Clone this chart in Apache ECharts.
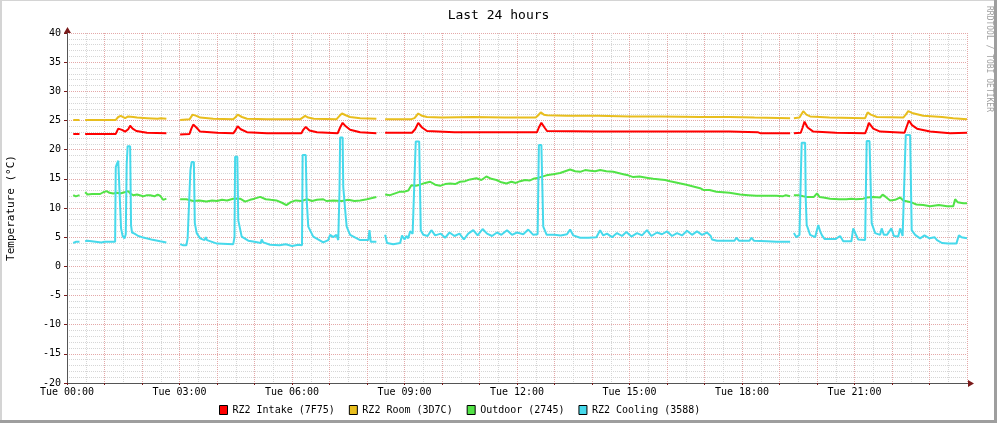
<!DOCTYPE html>
<html><head><meta charset="utf-8">
<script src="https://cdn.jsdelivr.net/npm/echarts@6/dist/echarts.min.js"></script>
<style>html,body{margin:0;padding:0;background:#fff}#c{width:997px;height:423px}</style>
</head><body><div id="c"></div>
<script>
// ---- data (x = minutes since Tue 00:00, null = gap) ----
const seriesNames = ['RZ2 Intake (7F75)', 'RZ2 Room (3D7C)', 'Outdoor (2745)', 'RZ2 Cooling (3588)'];
const xTickLabels = ['Tue 00:00','Tue 03:00','Tue 06:00','Tue 09:00','Tue 12:00','Tue 15:00','Tue 18:00','Tue 21:00'];

const intake = [[10,22.7],[20,22.7],[21,null],
[29,22.7],[78,22.7],[82,23.6],[85,23.9],[88,23.4],[93,23.1],[98,23.5],[101,24.1],[105,23.6],[111,23.2],[128,22.9],[159,22.8],[160,null],
[181,22.6],[196,22.7],[199,23.6],[202,24.3],[207,23.8],[213,23.1],[240,22.9],[266,22.8],[270,23.4],[273,24.0],[278,23.5],[288,23.0],[320,22.8],[375,22.8],[378,23.4],[382,23.9],[388,23.3],[400,23.0],[433,22.8],[437,23.8],[441,24.6],[446,24.0],[453,23.4],[469,23.0],[495,22.8],[496,null],
[509,22.9],[552,22.9],[557,23.5],[562,24.6],[568,23.8],[576,23.2],[620,23.0],[700,23.0],[752,23.0],[755,23.8],[759,24.6],[764,23.8],[768,23.2],[850,23.1],[950,23.1],[1013,23.1],[1060,23.1],[1105,23.0],[1110,22.8],[1157,22.8],[1158,null],
[1163,22.8],[1174,22.9],[1177,23.8],[1180,24.8],[1185,23.8],[1194,23.1],[1230,22.9],[1277,22.8],[1280,23.6],[1283,24.6],[1290,23.6],[1301,23.1],[1340,22.9],[1343,23.8],[1347,25.0],[1352,24.2],[1360,23.6],[1381,23.1],[1413,22.8],[1440,22.9]];

const room = [[10,25.1],[20,25.1],[21,null],
[29,25.1],[78,25.1],[82,25.6],[86,25.8],[93,25.4],[98,25.7],[101,25.9],[106,25.6],[112,25.5],[128,25.4],[145,25.3],[150,25.4],[159,25.3],[160,null],
[181,25.1],[196,25.2],[201,26.0],[207,25.8],[213,25.5],[234,25.3],[266,25.2],[270,25.6],[273,26.0],[280,25.6],[288,25.3],[320,25.2],[373,25.2],[377,25.5],[381,25.8],[386,25.5],[395,25.3],[431,25.2],[436,25.8],[440,26.2],[446,25.9],[453,25.6],[469,25.4],[495,25.3],[496,null],
[509,25.2],[550,25.2],[556,25.4],[562,26.2],[568,25.8],[576,25.6],[600,25.5],[650,25.6],[700,25.5],[750,25.5],[754,25.9],[758,26.4],[763,26.0],[768,25.9],[800,25.8],[850,25.8],[900,25.7],[950,25.7],[1013,25.6],[1060,25.6],[1100,25.5],[1157,25.4],[1158,null],
[1163,25.4],[1172,25.5],[1178,26.6],[1183,26.0],[1189,25.7],[1220,25.5],[1277,25.4],[1281,26.4],[1286,26.0],[1296,25.6],[1338,25.5],[1342,26.0],[1346,26.6],[1352,26.3],[1370,25.8],[1400,25.6],[1418,25.4],[1440,25.2]];

const outdoor = [[10,12.2],[14,12.0],[20,12.2],[21,null],
[29,12.7],[33,12.3],[40,12.4],[53,12.4],[58,12.7],[63.5,12.9],[68,12.6],[74,12.5],[80,12.6],[85,12.5],[92,12.7],[98,12.9],[102,12.4],[106,12.2],[112,12.3],[122,12.0],[128,12.2],[133,12.2],[140,12.0],[145,12.3],[149,12.1],[154,11.4],[159,11.6],[160,null],
[181,11.5],[191,11.5],[194,11.8],[202,11.2],[212,11.3],[223,11.1],[232,11.3],[240,11.2],[248,11.4],[256,11.3],[266,11.6],[277,11.6],[285,11.1],[293,11.4],[300,11.6],[309,11.9],[318,11.5],[326,11.4],[335,11.3],[344,10.9],[351,10.5],[358,11.0],[366,11.3],[375,11.2],[384,11.5],[392,11.2],[400,11.4],[410,11.5],[415,11.2],[426,11.3],[440,11.2],[450,11.4],[460,11.2],[469,11.3],[480,11.5],[488,11.7],[495,11.9],[496,null],
[509,12.3],[517,12.2],[525,12.5],[533,12.8],[540,12.8],[546,13.0],[551,13.9],[558,13.8],[565,14.0],[573,14.3],[581,14.5],[589,14.0],[597,13.8],[605,14.1],[613,14.2],[621,14.1],[629,14.5],[637,14.6],[645,14.9],[655,15.1],[663,14.8],[671,15.4],[679,15.0],[687,14.8],[695,14.4],[703,14.2],[711,14.5],[718,14.3],[725,14.6],[733,14.8],[740,14.7],[746,15.0],[755,15.2],[767,15.6],[778,15.8],[789,16.0],[797,16.3],[805,16.6],[813,16.3],[821,16.2],[829,16.5],[837,16.4],[845,16.3],[853,16.5],[863,16.3],[874,16.2],[882,16.0],[890,15.8],[898,15.6],[906,15.3],[916,15.4],[927,15.2],[938,15.0],[949,14.9],[957,14.8],[965,14.6],[978,14.3],[991,14.0],[1002,13.7],[1013,13.4],[1018,13.1],[1028,13.1],[1039,12.8],[1050,12.7],[1060,12.6],[1077,12.3],[1090,12.2],[1103,12.1],[1120,12.1],[1135,12.1],[1145,12.0],[1150,12.2],[1157,12.0],[1158,null],
[1163,12.2],[1170,12.2],[1178,12.0],[1183,11.9],[1195,11.9],[1200,12.5],[1204,11.9],[1210,11.8],[1221,11.6],[1235,11.5],[1247,11.5],[1255,11.6],[1258,11.9],[1262,11.5],[1274,11.6],[1280,11.8],[1290,11.9],[1301,11.8],[1305,12.3],[1310,11.9],[1317,11.3],[1325,11.4],[1333,11.8],[1338,11.3],[1350,11.0],[1359,10.6],[1370,10.5],[1381,10.3],[1395,10.5],[1408,10.3],[1418,10.3],[1421,11.5],[1425,11.0],[1434,10.8],[1440,10.8]];

const cooling = [[10,4.0],[14,4.2],[20,4.2],[21,null],
[29,4.3],[33,4.4],[36,4.1],[55,4.1],[60,4.2],[70,4.2],[77,4.2],[78,17.0],[80,17.6],[82,18.1],[85,18.1],[86.5,6.5],[89,5.2],[92,4.8],[94,5.5],[95.5,17.5],[97,20.6],[101,20.6],[102.5,7.0],[104,5.8],[108,5.6],[114,5.2],[120,5.0],[127,4.8],[135,4.6],[149,4.3],[159,4.1],[160,null],
[181,3.8],[186,3.6],[191,3.6],[193,4.8],[196,5.0],[197.5,16.5],[199.5,17.9],[203,17.9],[204.5,7.4],[207.5,5.7],[213,4.8],[220,4.5],[222,5.0],[224,4.5],[240,3.9],[266,3.8],[268,5.0],[269,18.8],[272.5,18.8],[274,7.9],[279.5,5.1],[290,4.4],[300,4.2],[310,4.0],[311.5,4.6],[314,4.1],[325,3.7],[340,3.6],[350,3.8],[353,3.5],[360,3.5],[370,3.7],[376,3.6],[377,19.1],[382,19.1],[383.5,11.4],[386,6.8],[394,5.1],[410,4.1],[418,4.5],[421,5.4],[426,5.0],[431,5.4],[434,4.5],[436,13.0],[437,22.1],[441,22.1],[442,13.6],[446,8.5],[447.5,6.8],[453,5.4],[469,4.5],[482,4.5],[484,6.2],[486,4.2],[495,4.2],[496,null],
[509,5.4],[511,5.4],[512,4.0],[522,3.8],[533,4.0],[536,5.3],[540,4.6],[543,5.2],[546,4.8],[549,6.0],[553,5.6],[556,5.6],[558,21.4],[563.5,21.4],[566,6.2],[570,5.4],[577,5.2],[583,6.2],[589,5.3],[598,5.6],[605,4.9],[612,5.8],[620,5.2],[628,5.6],[635,4.6],[642,5.6],[650,6.2],[657,5.3],[665,6.4],[672,5.6],[680,5.2],[688,5.8],[695,5.4],[704,6.2],[712,5.4],[720,5.8],[730,5.5],[738,6.3],[746,5.4],[753,5.5],[755,20.8],[759,20.8],[762,6.8],[767.5,5.4],[780,5.4],[790,5.3],[800,5.5],[805,6.3],[810,5.3],[821,4.9],[835,4.9],[847,5.0],[853,6.2],[858,5.3],[864,5.6],[872,5.0],[880,5.7],[888,5.2],[895,5.9],[903,5.1],[912,5.7],[920,5.3],[928,6.2],[935,5.2],[944,5.8],[952,5.5],[960,6.0],[968,5.2],[976,5.7],[984,5.3],[992,6.1],[1000,5.4],[1008,6.0],[1016,5.4],[1024,5.8],[1030,5.2],[1032,4.6],[1040,4.4],[1060,4.4],[1068,4.4],[1071,4.9],[1075,4.4],[1092,4.4],[1095,4.9],[1099,4.4],[1120,4.3],[1135,4.2],[1157,4.2],[1158,null],
[1163,5.7],[1167,5.0],[1172,5.4],[1174,15.0],[1175.5,21.2],[1181,21.2],[1182,11.4],[1183.5,7.1],[1189,5.4],[1197,5.0],[1202,7.1],[1205,6.0],[1208,5.3],[1212,4.7],[1230,4.7],[1237,5.2],[1242,4.3],[1255,4.3],[1258,6.5],[1262,5.5],[1266,4.6],[1277,4.5],[1278.5,15.0],[1279.5,21.5],[1284,21.5],[1287.5,7.4],[1293,5.7],[1301,5.4],[1303.5,6.5],[1307,5.4],[1312,5.4],[1319,6.5],[1323,5.2],[1330,5.1],[1333,6.5],[1337,5.2],[1340,5.2],[1342,22.5],[1349,22.5],[1351.5,6.2],[1357,5.4],[1365,4.8],[1372,5.3],[1380,4.8],[1388,5.0],[1392,4.5],[1400,4.0],[1410,3.9],[1423,3.9],[1427,5.3],[1431,5.0],[1434,4.9],[1440,4.8]];

const seriesColors = ['#ff0000', '#e8be1e', '#52e346', '#46d9eb'];
const seriesData = [intake, room, outdoor, cooling];

// ---- chart ----
const FONT = 'DejaVu Sans Mono';
const prep = d => d.map(p => [p[0], p[1] === null ? '-' : p[1]]);
const chart = echarts.init(document.getElementById('c'), null, {renderer: 'canvas'});
const axisCol = '#555';
const arrowCol = '#7a1a1a';
const majorGrid = '#e4a8a8';
const minorGrid = '#d6d6d6';
chart.setOption({
  animation: false,
  backgroundColor: '#ffffff',
  title: {text: 'Last 24 hours', left: 'center', top: 4,
    textStyle: {fontFamily: FONT, fontSize: 13, fontWeight: 'normal', color: '#000'}},
  grid: {left: 67, right: 30, top: 33, bottom: 40, containLabel: false, outerBoundsMode: 'none'},
  legend: {
    left: 219, top: 405, padding: 0, icon: 'rect', itemWidth: 8, itemHeight: 9, itemGap: 14,
    itemStyle: {borderColor: '#000', borderWidth: 1},
    textStyle: {fontFamily: FONT, fontSize: 10, color: '#000'},
    data: seriesNames
  },
  xAxis: {
    type: 'value', min: 0, max: 1440, interval: 60,
    axisLine: {show: true, onZero: false, lineStyle: {color: axisCol, width: 1}},
    axisTick: {show: true, length: 2, lineStyle: {color: arrowCol}},
    axisLabel: {
      color: '#000', fontFamily: FONT, fontSize: 10, margin: 4, showMaxLabel: false, hideOverlap: false,
      formatter: v => (v % 180 === 0 && v / 180 < xTickLabels.length) ? xTickLabels[v / 180] : ''
    },
    splitLine: {show: true, lineStyle: {color: majorGrid, type: [1, 1], width: 1}},
    minorTick: {show: false, splitNumber: 2},
    minorSplitLine: {show: true, lineStyle: {color: minorGrid, type: [1, 1], width: 1}}
  },
  yAxis: {
    type: 'value', min: -20, max: 40, interval: 5,
    name: 'Temperature (°C)', nameLocation: 'middle', nameGap: 50, nameRotate: 90,
    nameTextStyle: {fontFamily: FONT, fontSize: 11, color: '#000'},
    axisLine: {show: true, onZero: false, lineStyle: {color: axisCol, width: 1}},
    axisTick: {show: true, length: 3, lineStyle: {color: arrowCol}},
    axisLabel: {color: '#000', fontFamily: FONT, fontSize: 10, margin: 6},
    splitLine: {show: true, lineStyle: {color: majorGrid, type: [1, 1], width: 1}},
    minorTick: {show: false, splitNumber: 5},
    minorSplitLine: {show: true, lineStyle: {color: minorGrid, type: [1, 1], width: 1}}
  },
  series: seriesNames.map((n, i) => ({
    name: n, type: 'line', data: prep(seriesData[i]), showSymbol: false, symbol: 'none',
    connectNulls: false, color: seriesColors[i],
    lineStyle: {width: 2, color: seriesColors[i]}, itemStyle: {color: seriesColors[i]},
    z: 3 + i
  })),
  graphic: [
    // frame
    {type: 'rect', shape: {x: 0, y: 0, width: 997, height: 1}, style: {fill: '#d4d4d4'}, silent: true},
    {type: 'rect', shape: {x: 0, y: 0, width: 2, height: 423}, style: {fill: '#d4d4d4'}, silent: true},
    {type: 'rect', shape: {x: 0, y: 420, width: 997, height: 3}, style: {fill: '#9e9e9e'}, silent: true},
    {type: 'rect', shape: {x: 994, y: 0, width: 3, height: 423}, style: {fill: '#9e9e9e'}, silent: true},
    // axis extensions and arrows
    {type: 'line', shape: {x1: 967, y1: 383.5, x2: 970, y2: 383.5}, style: {stroke: axisCol, lineWidth: 1}, silent: true},
    {type: 'polygon', shape: {points: [[968, 380], [974, 383.5], [968, 387]]}, style: {fill: arrowCol}, silent: true},
    {type: 'line', shape: {x1: 67.5, y1: 33, x2: 67.5, y2: 30}, style: {stroke: axisCol, lineWidth: 1}, silent: true},
    {type: 'polygon', shape: {points: [[64, 33], [67.5, 27], [71, 33]]}, style: {fill: arrowCol}, silent: true},
    // watermark
    {type: 'text', x: 989, y: 6, rotation: -Math.PI / 2,
      style: {text: 'RRDTOOL / TOBI OETIKER', fontFamily: FONT, fontSize: 8, fill: '#a0a0a0',
        align: 'left', verticalAlign: 'middle'}, silent: true}
  ]
});
</script></body></html>
